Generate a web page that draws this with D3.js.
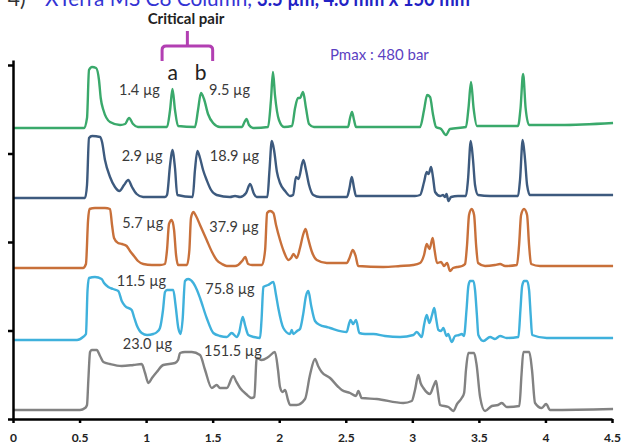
<!DOCTYPE html>
<html>
<head>
<meta charset="utf-8">
<script src="https://cdn.jsdelivr.net/npm/d3@7"></script>
<style>
  body { margin: 0; background: #fff; }
  svg { display: block; font-family: Lato, "Open Sans", sans-serif; }
</style>
</head>
<body>
<svg id="chart" width="624" height="445"></svg>
<script>
// retention time (min) and signal above each trace's own baseline
var green = [[0,0],[0.533,0],[0.556,10],[0.571,58],[0.594,61],[0.624,60],[0.646,48],[0.659,30],[0.679,18],[0.729,6],[0.804,3],[0.842,4],[0.872,10],[0.902,4],[0.939,1],[1.104,1],[1.157,1],[1.180,18],[1.198,39],[1.217,18],[1.240,2],[1.367,1],[1.390,18],[1.412,35],[1.435,29],[1.465,14],[1.503,5],[1.555,1],[1.721,1],[1.739,6],[1.754,9],[1.773,3],[1.803,0],[1.916,1],[1.938,28],[1.953,56],[1.968,33],[1.998,8],[2.036,1],[2.096,2],[2.119,20],[2.141,30],[2.156,30],[2.179,36],[2.201,20],[2.224,4],[2.261,1],[2.517,1],[2.532,10],[2.547,16],[2.562,8],[2.577,1],[3.058,1],[3.088,18],[3.111,33],[3.133,31],[3.156,13],[3.178,1],[3.216,-1],[3.253,-7],[3.283,-1],[3.403,1],[3.422,20],[3.441,46],[3.460,20],[3.486,2],[3.794,2],[3.813,20],[3.832,54],[3.851,20],[3.877,3],[4.110,3],[4.508,5]];

var navy = [[0,0],[0.541,0],[0.556,13],[0.571,60],[0.594,62],[0.654,61],[0.669,56],[0.691,38],[0.729,21],[0.766,11],[0.799,7],[0.834,13],[0.866,18],[0.894,11],[0.929,4],[0.977,1],[1.142,1],[1.157,3],[1.180,33],[1.197,48],[1.217,30],[1.234,3],[1.350,1],[1.367,28],[1.385,47],[1.405,40],[1.428,28],[1.455,18],[1.488,8],[1.530,3],[1.630,1],[1.668,2],[1.706,1],[1.751,5],[1.781,14],[1.811,4],[1.831,1],[1.911,1],[1.927,28],[1.944,57],[1.961,48],[1.983,26],[2.006,15],[2.044,7],[2.081,2],[2.104,3],[2.126,21],[2.145,19],[2.181,38],[2.201,28],[2.224,13],[2.256,3],[2.306,1],[2.509,1],[2.528,10],[2.545,21],[2.562,10],[2.577,2],[3.020,2],[3.058,3],[3.088,16],[3.108,26],[3.122,24],[3.141,31],[3.156,20],[3.171,6],[3.209,2],[3.231,3],[3.246,1],[3.257,4],[3.271,-3],[3.291,1],[3.343,2],[3.403,2],[3.418,18],[3.439,57],[3.456,38],[3.471,13],[3.494,3],[3.584,2],[3.794,2],[3.809,18],[3.829,58],[3.847,38],[3.862,13],[3.884,3],[4.508,3]];

var orange = [[0,0],[0.526,0],[0.548,4],[0.564,48],[0.575,59],[0.616,60],[0.691,60],[0.729,59],[0.744,43],[0.759,30],[0.789,25],[0.819,24],[0.854,22],[0.879,17],[0.909,12],[0.939,7],[0.979,4],[1.044,3],[1.104,3],[1.142,4],[1.157,18],[1.172,44],[1.192,48],[1.210,38],[1.225,13],[1.240,3],[1.307,3],[1.325,18],[1.337,50],[1.355,56],[1.375,52],[1.405,43],[1.455,28],[1.495,16],[1.530,8],[1.570,4],[1.606,2],[1.668,2],[1.691,3],[1.721,7],[1.745,11],[1.766,4],[1.796,3],[1.871,3],[1.894,18],[1.909,55],[1.931,57],[1.956,55],[1.976,43],[2.006,28],[2.036,16],[2.069,8],[2.089,10],[2.107,14],[2.131,10],[2.156,20],[2.179,33],[2.198,39],[2.216,30],[2.246,16],[2.282,8],[2.357,5],[2.405,5],[2.507,5],[2.528,10],[2.553,18],[2.574,12],[2.593,2],[2.781,1],[2.908,2],[3.006,3],[3.058,5],[3.088,13],[3.108,24],[3.129,19],[3.153,30],[3.167,18],[3.186,5],[3.216,6],[3.238,2],[3.261,5],[3.283,-3],[3.306,0],[3.336,1],[3.374,2],[3.396,4],[3.411,23],[3.426,53],[3.446,59],[3.464,53],[3.479,23],[3.494,5],[3.546,2],[3.621,3],[3.659,4],[3.697,2],[3.786,3],[3.802,23],[3.817,53],[3.839,59],[3.862,53],[3.877,23],[3.892,4],[3.959,2],[4.508,2]];

var cyan = [[0,0],[0.481,0],[0.526,3],[0.548,6],[0.560,50],[0.571,62],[0.616,63],[0.666,61],[0.684,57],[0.716,53],[0.751,51],[0.791,49],[0.817,39],[0.842,34],[0.892,30],[0.909,23],[0.929,15],[0.967,7],[1.007,5],[1.054,6],[1.082,8],[1.104,12],[1.127,30],[1.142,48],[1.157,50],[1.204,50],[1.221,35],[1.242,12],[1.260,6],[1.274,20],[1.292,59],[1.315,61],[1.355,57],[1.382,50],[1.405,42],[1.455,22],[1.505,7],[1.555,4],[1.606,3],[1.643,7],[1.681,3],[1.698,7],[1.726,23],[1.743,15],[1.768,5],[1.811,3],[1.856,2],[1.867,20],[1.881,53],[1.916,55],[1.956,58],[1.976,45],[1.993,32],[2.031,12],[2.081,6],[2.094,10],[2.106,6],[2.134,9],[2.156,11],[2.179,25],[2.201,44],[2.219,49],[2.239,35],[2.269,19],[2.306,15],[2.357,13],[2.382,12],[2.507,8],[2.524,16],[2.536,20],[2.555,16],[2.577,20],[2.602,7],[2.645,6],[2.708,6],[2.795,4],[2.908,3],[3.008,5],[3.033,8],[3.071,3],[3.088,15],[3.108,25],[3.128,17],[3.148,25],[3.165,32],[3.178,22],[3.196,10],[3.216,9],[3.233,12],[3.257,4],[3.269,6],[3.296,-2],[3.321,4],[3.351,5],[3.371,6],[3.388,4],[3.407,30],[3.421,54],[3.434,59],[3.459,59],[3.471,50],[3.485,25],[3.496,5],[3.534,-1],[3.584,3],[3.621,1],[3.659,4],[3.709,2],[3.797,3],[3.812,30],[3.825,54],[3.840,59],[3.862,59],[3.877,50],[3.889,25],[3.900,5],[4.010,2],[4.508,2]];

var grey = [[0,0],[0.503,0],[0.541,2],[0.556,5],[0.566,30],[0.579,58],[0.591,60],[0.629,60],[0.654,54],[0.679,48],[0.729,46],[0.817,44],[0.904,45],[0.967,46],[0.992,37],[1.017,27],[1.044,32],[1.080,38],[1.129,45],[1.217,47],[1.240,50],[1.255,57],[1.292,58],[1.343,58],[1.405,55],[1.443,40],[1.493,22],[1.530,25],[1.555,22],[1.606,22],[1.655,34],[1.675,29],[1.706,22],[1.751,16],[1.793,12],[1.813,13],[1.831,52],[1.868,50],[1.918,53],[1.968,58],[1.991,40],[2.006,23],[2.025,18],[2.044,20],[2.066,10],[2.081,5],[2.131,5],[2.194,11],[2.231,35],[2.269,51],[2.292,44],[2.319,38],[2.382,32],[2.444,23],[2.470,20],[2.532,17],[2.577,14],[2.594,19],[2.620,12],[2.733,11],[2.932,7],[2.996,9],[3.020,20],[3.045,35],[3.062,27],[3.083,22],[3.133,16],[3.159,24],[3.178,29],[3.193,17],[3.208,5],[3.271,3],[3.308,-1],[3.336,6],[3.371,12],[3.389,17],[3.403,40],[3.421,57],[3.464,57],[3.483,45],[3.509,13],[3.546,-1],[3.597,4],[3.644,5],[3.672,7],[3.709,3],[3.804,4],[3.820,35],[3.834,58],[3.879,58],[3.899,40],[3.922,7],[3.972,2],[4.005,6],[4.035,0],[4.508,1]];

var traces = [green, navy, orange, cyan, grey];
var offsets = [291, 221, 151, 79, 9];
var colors = ["#3aa96b", "#3d5a7e", "#c8703a", "#3fb1dc", "#828282"];
var loadsA = ["1.4 µg", "2.9 µg", "5.7 µg", "11.5 µg", "23.0 µg"];
var loadsB = ["9.5 µg", "18.9 µg", "37.9 µg", "75.8 µg", "151.5 µg"];
var xTicks = [0, 0.5, 1, 1.5, 2, 2.5, 3, 3.5, 4, 4.5];
var yTicks = [0, 88.5, 177, 265.5, 354];

var svg = d3.select("#chart");

var x = d3.scaleLinear().domain([0, 4.5]).range([13, 612]);
var y = d3.scaleLinear().domain([0, 359]).range([419, 60]);

// title, cut off by the top of the picture like in the slide
svg.append("text").attr("x", 0).attr("y", 6).style("font-size", "21px")
    .attr("fill", "#333").text("-4)");
svg.append("text").attr("x", 45).attr("y", 6).style("font-size", "21px")
    .attr("fill", "#3434d4").attr("textLength", 207).attr("lengthAdjust", "spacingAndGlyphs")
    .text("XTerra MS C8 Column,");
svg.append("text").attr("x", 257).attr("y", 6).style("font-size", "21px")
    .style("font-weight", "bold").attr("fill", "#2222c4")
    .attr("textLength", 213).attr("lengthAdjust", "spacingAndGlyphs")
    .text("3.5 µm, 4.6 mm x 150 mm");

// chromatograms
var line = d3.line().curve(d3.curveMonotoneX);

traces.forEach(function (tr, i) {
    svg.append("path")
        .attr("d", line(tr.map(function (d) { return [x(d[0]), y(d[1] + offsets[i])]; })))
        .attr("fill", "none")
        .attr("stroke", colors[i])
        .attr("stroke-width", 2.4)
        .attr("stroke-linejoin", "round");
});

// load labels
var labA = [[0.95, 33], [0.97, 37], [0.975, 40], [0.965, 54], [1.01, 61]];
var labB = [[1.627, 33], [1.664, 37], [1.66, 36], [1.63, 46], [1.652, 54]];
var labels = svg.append("g").style("font-size", "14.5px").attr("fill", "#3a3a3a")
    .attr("text-anchor", "middle");
loadsA.forEach(function (s, i) {
    labels.append("text").attr("x", x(labA[i][0])).attr("y", y(labA[i][1] + offsets[i])).text(s);
});
loadsB.forEach(function (s, i) {
    labels.append("text").attr("x", x(labB[i][0])).attr("y", y(labB[i][1] + offsets[i])).text(s);
});

// axes
var xAxis = svg.append("g").attr("transform", "translate(0," + y(0) + ")")
    .call(d3.axisBottom(x).tickValues(xTicks).tickFormat(d3.format("~g"))
        .tickSize(4).tickSizeOuter(0).tickPadding(10));
var yAxis = svg.append("g").attr("transform", "translate(" + x(0) + ",0)")
    .call(d3.axisLeft(y).tickValues(yTicks).tickFormat("").tickSize(5).tickSizeOuter(0));
yAxis.selectAll("path, line").attr("stroke", "#000").attr("stroke-width", 2.5);
xAxis.selectAll("path, line").attr("stroke", "#000").attr("stroke-width", 2.5);
xAxis.selectAll("text").style("font-family", "Lato, sans-serif")
    .style("font-size", "12px").style("font-weight", "bold").attr("fill", "#222");

// critical pair annotation
svg.append("text").attr("x", 186).attr("y", 24).attr("text-anchor", "middle")
    .style("font-size", "15px").style("font-weight", "bold").attr("fill", "#222")
    .text("Critical pair");
var bl = x(1.12), br = x(1.50), bm = (bl + br) / 2;
svg.append("path")
    .attr("d", "M" + bl + ",61 V50 Q" + bl + ",46 " + (bl + 4) + ",46 H" + (br - 4) +
        " Q" + br + ",46 " + br + ",50 V61 M" + bm + ",46 V31")
    .attr("fill", "none").attr("stroke", "#b23fb2").attr("stroke-width", 3);
svg.append("text").attr("x", x(1.2)).attr("y", 80).attr("text-anchor", "middle")
    .style("font-size", "21px").attr("fill", "#222").text("a");
svg.append("text").attr("x", x(1.41)).attr("y", 80).attr("text-anchor", "middle")
    .style("font-size", "21px").attr("fill", "#222").text("b");

svg.append("text").attr("x", 330).attr("y", 60)
    .style("font-size", "15px").attr("fill", "#5b3fc2").text("Pmax : 480 bar");
</script>
</body>
</html>
